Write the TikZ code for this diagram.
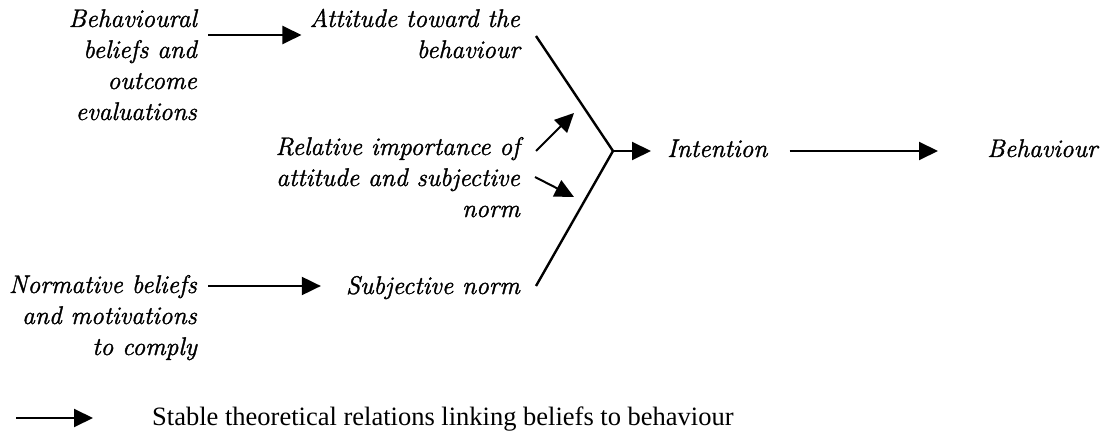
\documentclass[tikz,border=0pt]{standalone}
\usepackage{fontspec}
\setmainfont{Liberation Serif}
\newfontfamily\lmrfam{Latin Modern Roman}[FakeBold=1.3]
\usetikzlibrary{arrows.meta}
\begin{document}
\begin{tikzpicture}[x=1pt,y=-1pt,
  every node/.style={inner sep=0pt},
  lbl/.style={font=\lmrfam\fontsize{25.5}{31}\selectfont\itshape, align=right},
  legtext/.style={font=\fontsize{26.5}{31}\selectfont},
  arr/.style={line width=2pt, -{Triangle[length=19pt,width=18pt]}},
  vline/.style={line width=2.4pt}]
\useasboundingbox (0,0) rectangle (1109,443);
% text nodes (base = last line's baseline)
\node[lbl, anchor=base east] (beh) at (197,120) {Behavioural\\beliefs and\\outcome\\evaluations};
\node[lbl, anchor=base east] (att) at (520,58) {Attitude toward the\\behaviour};
\node[lbl, anchor=base east] (rel) at (520,217) {Relative importance of\\attitude and subjective\\norm};
\node[lbl, anchor=base east] (sn) at (520,294) {Subjective norm};
\node[lbl, anchor=base east] (nb) at (197,355) {Normative beliefs\\and motivations\\to comply};
\node[lbl, anchor=base west] (int) at (667,157) {Intention};
\node[lbl, anchor=base west] (bhv) at (987,157) {Behaviour};
\node[legtext, anchor=base west] (leg) at (152,426) {Stable theoretical relations linking beliefs to behaviour};
% V shape
\coordinate (vt) at (536,36);
\coordinate (vv) at (613,151);
\coordinate (vb) at (536,286);
\draw[vline] (vt) -- (vv) -- (vb);
% arrows
\coordinate (ya) at (0,35);
\coordinate (yb) at (0,286);
\draw[arr] ([xshift=11pt]beh.east |- ya) -- ([xshift=-8pt]att.west |- ya);
\draw[arr] ([xshift=11pt]nb.east |- yb) -- ([xshift=-25pt]sn.west |- yb);
\draw[arr] (vv) -- ([xshift=-16pt]int.west |- vv);
\draw[arr] ([xshift=22pt]int.east |- vv) -- ([xshift=-49pt]bhv.west |- vv);
\coordinate (us) at (536,151);
\coordinate (ue) at (574,113);
\coordinate (ls) at (535,177);
\coordinate (le) at (574,197);
\draw[arr] (us) -- (ue);
\draw[arr] (ls) -- (le);
\coordinate (legs) at (16,418);
\draw[arr] (legs) -- ([xshift=-59pt]leg.west |- legs);
\end{tikzpicture}
\end{document}
